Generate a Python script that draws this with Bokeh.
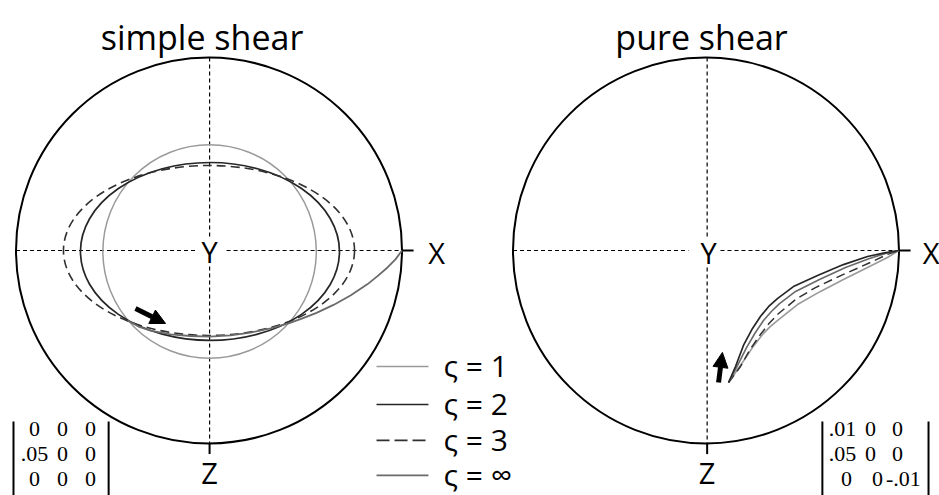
from bokeh.plotting import figure
from bokeh.models import Range1d, Arrow, NormalHead
from bokeh.core.properties import value
from bokeh.embed import file_html
from bokeh.resources import INLINE

# ---------------- data (projection circle radius = 1) ----------------
panel_titles = ["simple shear", "pure shear"]
axis_labels = ["X", "Y", "Z"]
sigma_labels = ["ς = 1", "ς = 2", "ς = 3", "ς = ∞"]

# simple shear: closed orbits for ς = 1, 2, 3 (centre, full width, full height)
ss_orbit_x = [0.003, 0.005, 0.0]
ss_orbit_y = [-0.005, -0.005, 0.0]
ss_orbit_w = [1.106, 1.342, 1.508]
ss_orbit_h = [1.106, 0.922, 0.881]

# simple shear: ς = ∞ path toward X
ss_inf_x = [-0.422, -0.365, -0.303, -0.199, -0.096, 0.003, 0.111, 0.215, 0.319, 0.412,
            0.474, 0.557, 0.645, 0.733, 0.822, 0.873, 0.925, 0.966, 1.0]
ss_inf_y = [-0.363, -0.394, -0.415, -0.435, -0.443, -0.446, -0.440, -0.425, -0.404, -0.378,
            -0.356, -0.323, -0.282, -0.233, -0.174, -0.133, -0.088, -0.046, 0.0]

# pure shear paths (local panel coordinates)
ps_s2_x = [0.117, 0.153, 0.194, 0.241, 0.282, 0.325, 0.370, 0.453, 0.578, 0.712, 0.837, 0.925, 1.0]
ps_s2_y = [-0.684, -0.601, -0.492, -0.404, -0.342, -0.290, -0.249, -0.187, -0.130, -0.073, -0.031, -0.012, 0.0]
ps_inf_x = [0.117, 0.163, 0.210, 0.256, 0.298, 0.340, 0.381, 0.464, 0.588, 0.723, 0.847, 0.930, 1.0]
ps_inf_y = [-0.684, -0.596, -0.503, -0.425, -0.363, -0.315, -0.275, -0.212, -0.150, -0.088, -0.041, -0.015, 0.0]
ps_s3_x = [0.117, 0.179, 0.225, 0.282, 0.325, 0.370, 0.464, 0.567, 0.712, 0.852, 0.935, 1.0]
ps_s3_y = [-0.684, -0.601, -0.518, -0.435, -0.380, -0.332, -0.254, -0.192, -0.124, -0.062, -0.022, 0.0]
ps_s1_x = [0.117, 0.189, 0.241, 0.293, 0.330, 0.370, 0.474, 0.593, 0.712, 0.837, 0.940, 1.0]
ps_s1_y = [-0.684, -0.580, -0.503, -0.435, -0.397, -0.363, -0.280, -0.212, -0.150, -0.088, -0.036, 0.0]

# velocity gradient tensors
matrix_ss = [["0", "0", "0"], [".05", "0", "0"], ["0", "0", "0"]]
matrix_ps = [[".01", "0", "0"], [".05", "0", "0"], ["0", "0", "-.01"]]

# ---------------- layout ----------------
PX = 193.0
W, H = 939, 495
CX, CY = 208.5, 250.0
OFF = 2.5751  # x offset of the pure-shear panel

p = figure(width=W, height=H, output_backend="svg", toolbar_location=None,
           x_axis_type=None, y_axis_type=None, min_border=0,
           x_range=Range1d(-CX / PX, (W - CX) / PX),
           y_range=Range1d(-(H - CY) / PX, CY / PX))
p.grid.visible = False
p.outline_line_color = None
p.background_fill_color = "white"

FONT = value("Open Sans")
SERIF = value("Liberation Serif")

C1, C2, C3, CINF = "#9a9a9a", "#262626", "#303030", "#6a6a6a"

# outer circles
p.circle(x=[0, OFF], y=[0, 0], radius=1.0, fill_color=None, line_color="black", line_width=2)

# dashed axes with gaps around Y
for ox, hg, vx, vg in [(0.0, (-0.070, 0.091), 0.003, (0.073, -0.083)),
                       (OFF, (-0.091, 0.075), 0.006, (0.073, -0.088))]:
    p.multi_line(xs=[[ox - 1, ox + hg[0]], [ox + hg[1], ox + 1],
                     [ox + vx, ox + vx], [ox + vx, ox + vx]],
                 ys=[[0, 0], [0, 0], [1, vg[0]], [vg[1], -1]],
                 line_color="black", line_width=1.2, line_dash="4 3")
    # ticks at X and Z
    p.multi_line(xs=[[ox + 1, ox + 1.06], [ox + vx, ox + vx]],
                 ys=[[0, 0], [-1, -1.055]], line_color="black", line_width=2)

# simple shear orbits
p.ellipse(x=ss_orbit_x[0:1], y=ss_orbit_y[0:1], width=ss_orbit_w[0:1], height=ss_orbit_h[0:1],
          fill_color=None, line_color=C1, line_width=1.5)
p.ellipse(x=ss_orbit_x[1:2], y=ss_orbit_y[1:2], width=ss_orbit_w[1:2], height=ss_orbit_h[1:2],
          fill_color=None, line_color=C2, line_width=1.7)
p.ellipse(x=ss_orbit_x[2:3], y=ss_orbit_y[2:3], width=ss_orbit_w[2:3], height=ss_orbit_h[2:3],
          fill_color=None, line_color=C3, line_width=1.6, line_dash="9 5")
p.line(ss_inf_x, ss_inf_y, line_color=CINF, line_width=1.8, line_join="round")

# pure shear paths
def sh(xs):
    return [v + OFF for v in xs]

p.line(sh(ps_s1_x), ps_s1_y, line_color=C1, line_width=1.6, line_join="round")
p.line(sh(ps_s3_x), ps_s3_y, line_color=C3, line_width=1.5, line_dash="9 5")
p.line(sh(ps_inf_x), ps_inf_y, line_color=CINF, line_width=1.6, line_join="round")
p.line(sh(ps_s2_x), ps_s2_y, line_color=C2, line_width=1.7, line_join="round")

# arrows
p.add_layout(Arrow(end=NormalHead(size=15, fill_color="black", line_color="black"),
                   x_start=-0.381, y_start=-0.301, x_end=-0.225, y_end=-0.378,
                   line_width=5, line_color="black"))
p.add_layout(Arrow(end=NormalHead(size=15, fill_color="black", line_color="black"),
                   x_start=OFF + 0.065, y_start=-0.684, x_end=OFF + 0.085, y_end=-0.528,
                   line_width=5, line_color="black"))

# titles
p.text(x=[-0.036, OFF - 0.023], y=[1.104, 1.104], text=panel_titles,
       text_font=FONT, text_font_size="34px", text_align="center",
       text_baseline="alphabetic", text_color="black")

# axis labels
p.text(x=[1.179, 0.003, OFF + 1.166, OFF + 0.013, 0.003, OFF + 0.006],
       y=[-0.008, -0.005, -0.008, -0.008, -1.150, -1.150],
       text=[axis_labels[0], axis_labels[1], axis_labels[0], axis_labels[1],
             axis_labels[2], axis_labels[2]],
       text_font=FONT, text_font_size="29px", text_align="center",
       text_baseline="middle", text_color="black")

# legend
leg_y = [-0.601, -0.798, -0.984, -1.165]
leg_styles = [(C1, 1.5, "solid"), (C2, 1.7, "solid"), (C3, 1.6, "13 5"), (CINF, 1.8, "solid")]
for yy, (col, lw, dash) in zip(leg_y, leg_styles):
    p.line([0.868, 1.137], [yy, yy], line_color=col, line_width=lw, line_dash=dash)
p.text(x=[1.215] * 4, y=[yy + 0.006 for yy in leg_y], text=sigma_labels,
       text_font=FONT, text_font_size="30px", text_align="left",
       text_baseline="middle", text_color="black")

# matrices
row_y = [-0.925, -1.054, -1.183]
ss_cols = [-0.904, -0.759, -0.614]
mx, my, mt = [], [], []
for r, row in enumerate(matrix_ss):
    for c, t in enumerate(row):
        mx.append(ss_cols[c]); my.append(row_y[r]); mt.append(t)
ps_cols = [[0.707, 0.852, 0.992], [0.707, 0.852, 0.992], [0.728, 0.889, 1.023]]
for r, row in enumerate(matrix_ps):
    for c, t in enumerate(row):
        mx.append(OFF + ps_cols[r][c]); my.append(row_y[r]); mt.append(t)
p.text(x=mx, y=my, text=mt, text_font=SERIF, text_font_size="22px",
       text_align="center", text_baseline="middle", text_color="black")
p.multi_line(xs=[[-1.013, -1.013], [-0.520, -0.520], [OFF + 0.603, OFF + 0.603], [OFF + 1.153, OFF + 1.153]],
             ys=[[-0.886, -1.3]] * 4, line_color="black", line_width=2)

open("out.html", "w").write(file_html(p, INLINE))
